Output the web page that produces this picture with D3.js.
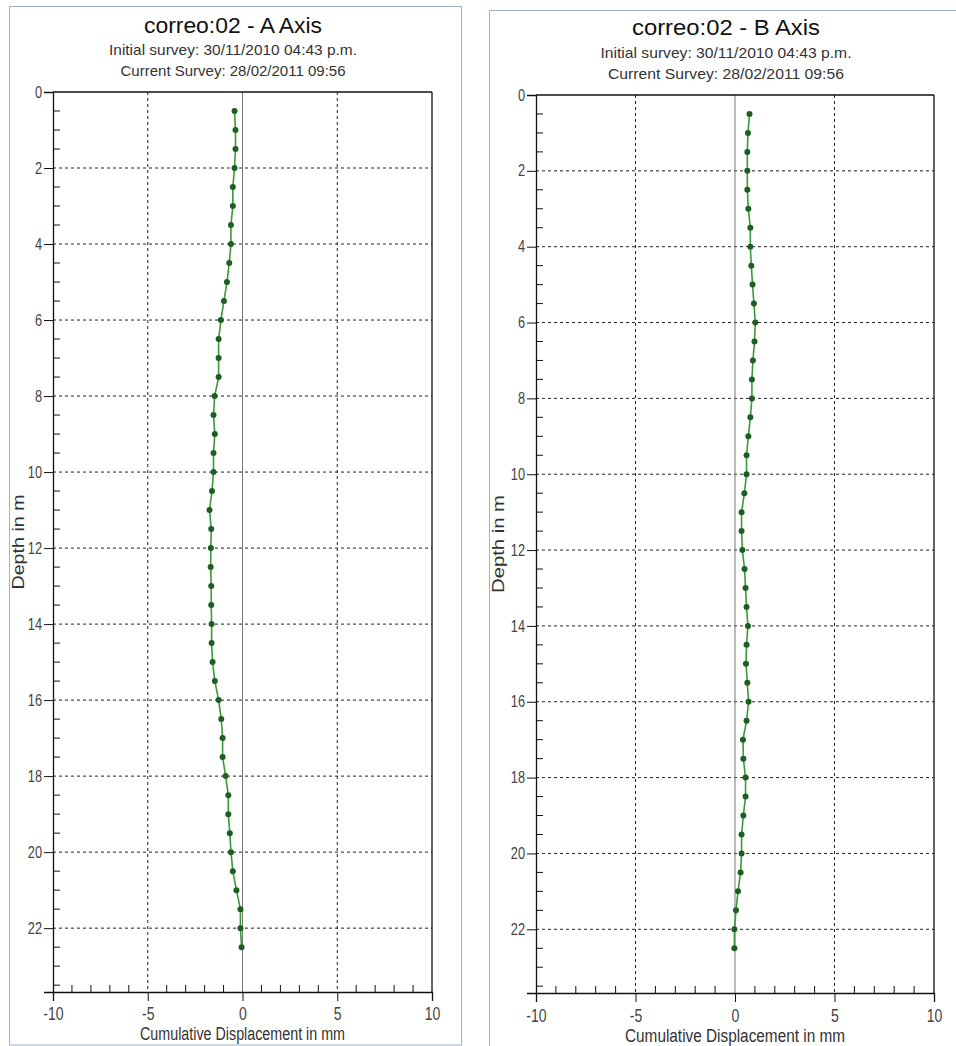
<!DOCTYPE html>
<html>
<head>
<meta charset="utf-8">
<script src="https://cdn.jsdelivr.net/npm/d3@7"></script>
<style>
  html, body { margin: 0; padding: 0; background: #fff; }
  svg text { font-family: "Liberation Sans Narrow", "Arial Narrow", "Liberation Sans", Arial, sans-serif; }
</style>
</head>
<body>
<svg id="chart" width="956" height="1046"></svg>
<script>
// ---- data ----
var depths = [0.5, 1, 1.5, 2, 2.5, 3, 3.5, 4, 4.5, 5, 5.5, 6, 6.5, 7, 7.5, 8, 8.5, 9, 9.5, 10,
              10.5, 11, 11.5, 12, 12.5, 13, 13.5, 14, 14.5, 15, 15.5, 16, 16.5, 17, 17.5, 18,
              18.5, 19, 19.5, 20, 20.5, 21, 21.5, 22, 22.5];

var aAxisValues = [-0.42, -0.37, -0.37, -0.42, -0.51, -0.51, -0.61, -0.61, -0.70, -0.82,
                   -0.98, -1.14, -1.26, -1.26, -1.26, -1.47, -1.53, -1.46, -1.53, -1.53,
                   -1.61, -1.74, -1.65, -1.67, -1.68, -1.65, -1.65, -1.63, -1.63, -1.58,
                   -1.46, -1.26, -1.12, -1.05, -1.05, -0.89, -0.75, -0.75, -0.67, -0.61,
                   -0.51, -0.32, -0.11, -0.11, -0.05];

var bAxisValues = [0.73, 0.65, 0.62, 0.62, 0.62, 0.67, 0.77, 0.77, 0.82, 0.88,
                   0.95, 1.02, 0.98, 0.90, 0.85, 0.85, 0.77, 0.67, 0.58, 0.58,
                   0.47, 0.33, 0.33, 0.37, 0.48, 0.53, 0.58, 0.65, 0.58, 0.55,
                   0.62, 0.68, 0.58, 0.40, 0.42, 0.53, 0.53, 0.42, 0.33, 0.33,
                   0.28, 0.15, 0.05, -0.03, -0.03];

var titles = ["correo:02 - A Axis", "correo:02 - B Axis"];
var initialSurvey = ["Initial survey: 30/11/2010 04:43 p.m.", "Initial survey: 30/11/2010 04:43 p.m."];
var currentSurvey = ["Current Survey: 28/02/2011 09:56", "Current Survey: 28/02/2011 09:56"];
var xMajorTicks = [-10, -5, 0, 5, 10];
var yMajorTicks = [0, 2, 4, 6, 8, 10, 12, 14, 16, 18, 20, 22];
var xLabel = "Cumulative Displacement in mm";
var yLabel = "Depth in m";
var depthMax = 23.68;

// ---- layout of the two panels ----
var panels = [
    { values: aAxisValues, title: titles[0], sub1: initialSurvey[0], sub2: currentSurvey[0],
      frame: { x: 9.5, y: 6.5, w: 452, h: 1038.5 },
      plot: { left: 53, right: 432, top: 92, bottom: 992 },
      titleX: 233, titleY: [33, 55, 76], titleW: [178, 248, 225],
      tickLabelY: 1020, xTitleY: 1040, xTitleW: 205, yTitleX: 24, yTitleW: 95 },
    { values: bAxisValues, title: titles[1], sub1: initialSurvey[1], sub2: currentSurvey[1],
      frame: { x: 489.5, y: 10.5, w: 520, h: 1100 },
      plot: { left: 536, right: 934, top: 95, bottom: 993 },
      titleX: 726, titleY: [35, 58, 79], titleW: [188, 251, 236],
      tickLabelY: 1022, xTitleY: 1042, xTitleW: 220, yTitleX: 504, yTitleW: 98 }
];

var svg = d3.select("#chart");

panels.forEach(function (p) {
    var g = svg.append("g");

    var x = d3.scaleLinear().domain([-10, 10]).range([p.plot.left, p.plot.right]);
    var y = d3.scaleLinear().domain([0, depthMax]).range([p.plot.top, p.plot.bottom]);

    // panel frame
    g.append("rect")
        .attr("x", p.frame.x).attr("y", p.frame.y)
        .attr("width", p.frame.w).attr("height", p.frame.h)
        .style("fill", "none").style("stroke", "#9fb3c8").style("stroke-width", 1);

    // titles
    g.append("text").attr("x", p.titleX).attr("y", p.titleY[0])
        .attr("text-anchor", "middle").attr("textLength", p.titleW[0]).attr("lengthAdjust", "spacingAndGlyphs")
        .style("font-size", "22px").style("fill", "#111").text(p.title);
    g.append("text").attr("x", p.titleX).attr("y", p.titleY[1])
        .attr("text-anchor", "middle").attr("textLength", p.titleW[1]).attr("lengthAdjust", "spacingAndGlyphs")
        .style("font-size", "15px").style("fill", "#333").text(p.sub1);
    g.append("text").attr("x", p.titleX).attr("y", p.titleY[2])
        .attr("text-anchor", "middle").attr("textLength", p.titleW[2]).attr("lengthAdjust", "spacingAndGlyphs")
        .style("font-size", "15px").style("fill", "#333").text(p.sub2);

    // horizontal dotted grid
    g.selectAll(".hgrid").data(yMajorTicks.filter(function (d) { return d > 0; }))
        .enter().append("line")
        .attr("x1", p.plot.left).attr("x2", p.plot.right)
        .attr("y1", function (d) { return y(d); }).attr("y2", function (d) { return y(d); })
        .style("stroke", "#222").style("stroke-width", 1).style("stroke-dasharray", "3,3");

    // vertical dotted grid at -5 and 5
    g.selectAll(".vgrid").data([-5, 5])
        .enter().append("line")
        .attr("x1", function (d) { return x(d); }).attr("x2", function (d) { return x(d); })
        .attr("y1", p.plot.top).attr("y2", p.plot.bottom)
        .style("stroke", "#222").style("stroke-width", 1).style("stroke-dasharray", "3,3");

    // zero line
    g.append("line")
        .attr("x1", x(0)).attr("x2", x(0)).attr("y1", p.plot.top).attr("y2", p.plot.bottom)
        .style("stroke", "#777").style("stroke-width", 1);

    // frame top / right
    g.append("line").attr("x1", p.plot.left).attr("x2", p.plot.right)
        .attr("y1", p.plot.top).attr("y2", p.plot.top)
        .style("stroke", "#111").style("stroke-width", 1.3);
    g.append("line").attr("x1", p.plot.right).attr("x2", p.plot.right)
        .attr("y1", p.plot.top).attr("y2", p.plot.bottom)
        .style("stroke", "#111").style("stroke-width", 1.3);

    // y axis: major ticks outside, minor ticks inside
    g.append("g").attr("transform", "translate(" + p.plot.left + ",0)")
        .call(d3.axisLeft(y).tickValues(yMajorTicks).tickSize(9).tickFormat(function (d) { return String(d); }))
        .call(function (a) {
            a.select(".domain").style("stroke", "#111").style("stroke-width", 1.3);
            a.selectAll(".tick line").style("stroke", "#111");
            a.selectAll("text").attr("x", null)
                .attr("transform", "translate(-11,0) scale(0.8,1)")
                .style("font-size", "16px").style("fill", "#444");
        });
    var yMinor = d3.range(0.5, depthMax, 0.5).filter(function (d) { return d % 2 !== 0; });
    g.selectAll(".yminor").data(yMinor).enter().append("line")
        .attr("x1", p.plot.left).attr("x2", p.plot.left + 7)
        .attr("y1", function (d) { return y(d); }).attr("y2", function (d) { return y(d); })
        .style("stroke", "#111").style("stroke-width", 1);

    // x axis: major ticks outside, minor ticks inside
    g.append("g").attr("transform", "translate(0," + p.plot.bottom + ")")
        .call(d3.axisBottom(x).tickValues(xMajorTicks).tickSize(9).tickFormat(function (d) { return String(d); }))
        .call(function (a) {
            a.select(".domain").style("stroke", "#111").style("stroke-width", 1.3);
            a.selectAll(".tick line").style("stroke", "#111");
            a.selectAll("text").attr("y", null).attr("dy", null)
                .attr("transform", "translate(0," + (p.tickLabelY - p.plot.bottom) + ") scale(0.74,1)")
                .style("font-size", "19px").style("fill", "#444");
        });
    var xMinor = d3.range(-9, 10, 1).filter(function (d) { return d % 5 !== 0; });
    g.selectAll(".xminor").data(xMinor).enter().append("line")
        .attr("x1", function (d) { return x(d); }).attr("x2", function (d) { return x(d); })
        .attr("y1", p.plot.bottom).attr("y2", p.plot.bottom - 7)
        .style("stroke", "#111").style("stroke-width", 1);

    // axis titles
    g.append("text").attr("x", (p.plot.left + p.plot.right) / 2).attr("y", p.xTitleY)
        .attr("text-anchor", "middle").attr("textLength", p.xTitleW).attr("lengthAdjust", "spacingAndGlyphs")
        .style("font-size", "18px").style("fill", "#333").text(xLabel);
    g.append("text")
        .attr("transform", "translate(" + p.yTitleX + "," + ((p.plot.top + p.plot.bottom) / 2) + ") rotate(-90)")
        .attr("text-anchor", "middle").attr("textLength", p.yTitleW).attr("lengthAdjust", "spacingAndGlyphs")
        .style("font-size", "17px").style("fill", "#333").text(yLabel);

    // profile line and points
    var pts = depths.map(function (d, i) { return { depth: d, value: p.values[i] }; });
    var line = d3.line().x(function (d) { return x(d.value); }).y(function (d) { return y(d.depth); });
    g.append("path").datum(pts).attr("d", line)
        .style("fill", "none").style("stroke", "#3a9a3a").style("stroke-width", 1.6);
    g.selectAll(".pt").data(pts).enter().append("circle")
        .attr("cx", function (d) { return x(d.value); }).attr("cy", function (d) { return y(d.depth); })
        .attr("r", 3).style("fill", "#1d5e22");
});
</script>
</body>
</html>
